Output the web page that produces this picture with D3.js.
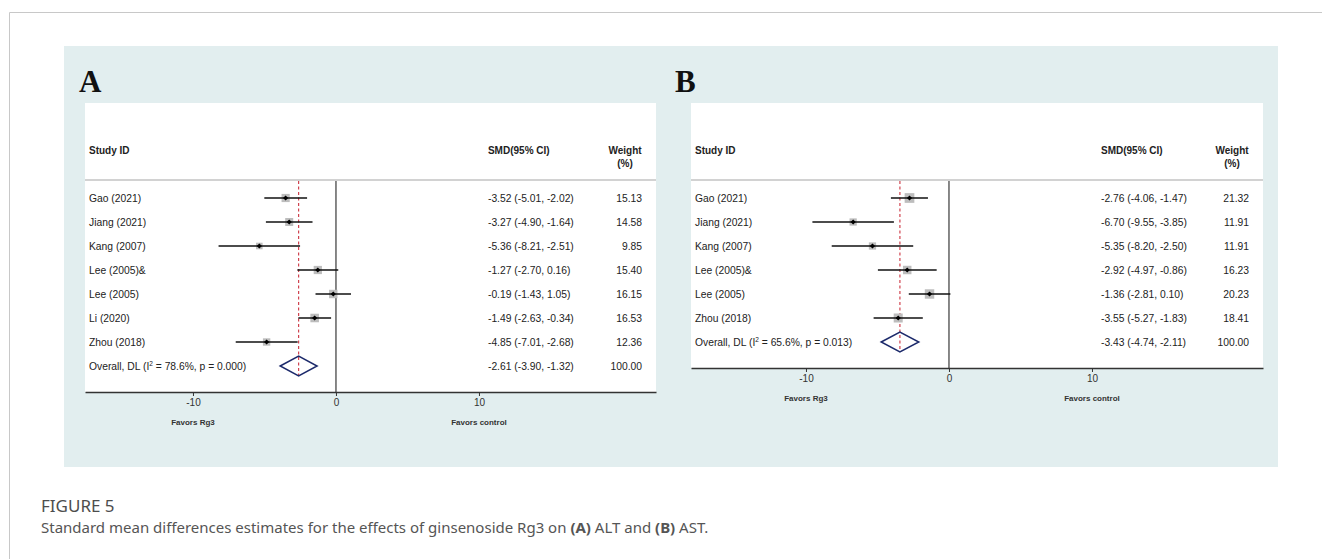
<!DOCTYPE html>
<html lang="en">
<head>
<meta charset="UTF-8">
<title>Figure 5 forest plots</title>
<script src="https://d3js.org/d3.v7.min.js"></script>
<style>
  body { margin: 0; background: #fff; }
  svg { display: block; }
  .lbl { font-family: "Liberation Sans", Arial, sans-serif; font-size: 10.3px; fill: #222; }
  .hdr { font-family: "Liberation Sans", Arial, sans-serif; font-size: 10px; font-weight: bold; fill: #222; }
  .fav { font-family: "Liberation Sans", Arial, sans-serif; font-size: 8px; font-weight: bold; fill: #333; }
  .tick text { font-family: "Liberation Sans", Arial, sans-serif; font-size: 10px; fill: #333; }
  .panel-letter { font-family: "Liberation Serif", "Times New Roman", serif; font-size: 31px; font-weight: bold; fill: #111; }
  .cap-title { font-family: "Noto Sans", sans-serif; font-size: 17px; fill: #4d4d4d; }
  .cap-text { font-family: "Noto Sans", sans-serif; font-size: 15px; fill: #555; }
</style>
</head>
<body>
<svg id="fig" width="1322" height="559"></svg>
<script>
// Panel A: ALT
const studiesA = ["Gao (2021)", "Jiang (2021)", "Kang (2007)", "Lee (2005)&", "Lee (2005)", "Li (2020)", "Zhou (2018)"];
const smdA = [-3.52, -3.27, -5.36, -1.27, -0.19, -1.49, -4.85];
const lowA = [-5.01, -4.90, -8.21, -2.70, -1.43, -2.63, -7.01];
const highA = [-2.02, -1.64, -2.51, 0.16, 1.05, -0.34, -2.68];
const weightA = [15.13, 14.58, 9.85, 15.40, 16.15, 16.53, 12.36];
const overallA = [-2.61, -3.90, -1.32];   // smd, low, high
const hetA = ["78.6", "0.000"];           // I², p

// Panel B: AST
const studiesB = ["Gao (2021)", "Jiang (2021)", "Kang (2007)", "Lee (2005)&", "Lee (2005)", "Zhou (2018)"];
const smdB = [-2.76, -6.70, -5.35, -2.92, -1.36, -3.55];
const lowB = [-4.06, -9.55, -8.20, -4.97, -2.81, -5.27];
const highB = [-1.47, -3.85, -2.50, -0.86, 0.10, -1.83];
const weightB = [21.32, 11.91, 11.91, 16.23, 20.23, 18.41];
const overallB = [-3.43, -4.74, -2.11];
const hetB = ["65.6", "0.013"];

const tickVals = [-10, 0, 10];
const favorLabels = ["Favors Rg3", "Favors control"];

const svg = d3.select("#fig");

// outer frame + tinted panel
svg.append("path").attr("d", "M9.5,559 V12.5 H1322").attr("fill", "none").attr("stroke", "#c8c8c8");
svg.append("rect").attr("x", 64).attr("y", 46).attr("width", 1214).attr("height", 421).attr("fill", "#e2eeef");

function forest(opt) {
  const g = svg.append("g");
  const n = opt.studies.length;
  const rowY = d3.scalePoint().domain(d3.range(n + 1)).range([198, 198 + 24 * n]);
  const axisY = rowY(n) + 26;
  const x = d3.scaleLinear().domain(opt.domain).range([opt.left, opt.right]);
  const hdrY = 180;
  const side = w => 2.1 * Math.sqrt(w);

  g.append("text").attr("class", "panel-letter").attr("x", opt.letterX).attr("y", 92).text(opt.letter);

  g.append("rect").attr("x", opt.left).attr("y", 103)
    .attr("width", opt.right - opt.left).attr("height", axisY - 103).attr("fill", "#fff");

  // header
  g.append("text").attr("class", "hdr").attr("x", opt.left + 4).attr("y", 154).text("Study ID");
  g.append("text").attr("class", "hdr").attr("x", x(0) + 152).attr("y", 154).text("SMD(95% CI)");
  g.append("text").attr("class", "hdr").attr("x", opt.right - 31).attr("y", 154).attr("text-anchor", "middle").text("Weight");
  g.append("text").attr("class", "hdr").attr("x", opt.right - 31).attr("y", 167).attr("text-anchor", "middle").text("(%)");
  g.append("line").attr("x1", opt.left).attr("x2", opt.right).attr("y1", hdrY).attr("y2", hdrY)
    .attr("stroke", "#d2d2d2").attr("stroke-width", 2);

  // null line
  g.append("line").attr("x1", x(0)).attr("x2", x(0)).attr("y1", hdrY + 1).attr("y2", axisY)
    .attr("stroke", "#555").attr("stroke-width", 1.4);

  // overall effect dashed line
  g.append("line").attr("x1", x(opt.overall[0])).attr("x2", x(opt.overall[0]))
    .attr("y1", hdrY + 1).attr("y2", rowY(n) + 10)
    .attr("stroke", "#cc3340").attr("stroke-width", 1.1).attr("stroke-dasharray", "3,2.5");

  const rows = opt.studies.map((s, i) => ({ s, est: opt.smd[i], lo: opt.low[i], hi: opt.high[i], w: opt.weight[i], i }));

  const row = g.selectAll(".row").data(rows).join("g").attr("class", "row");
  row.append("rect")
    .attr("x", d => x(d.est) - side(d.w) / 2)
    .attr("y", d => rowY(d.i) - side(d.w) / 2)
    .attr("width", d => side(d.w))
    .attr("height", d => side(d.w))
    .attr("fill", "#bdbdbd");
  row.append("line")
    .attr("x1", d => x(d.lo)).attr("x2", d => x(d.hi))
    .attr("y1", d => rowY(d.i)).attr("y2", d => rowY(d.i))
    .attr("stroke", "#111").attr("stroke-width", 1.5);
  row.append("path")
    .attr("d", d => `M${x(d.est)},${rowY(d.i) - 2.6}l2.6,2.6l-2.6,2.6l-2.6,-2.6z`)
    .attr("fill", "#000");
  row.append("text").attr("class", "lbl").attr("x", opt.left + 4).attr("y", d => rowY(d.i) + 3.6).text(d => d.s);
  row.append("text").attr("class", "lbl").attr("x", x(0) + 152).attr("y", d => rowY(d.i) + 3.6)
    .text(d => `${d.est.toFixed(2)} (${d.lo.toFixed(2)}, ${d.hi.toFixed(2)})`);
  row.append("text").attr("class", "lbl").attr("x", opt.right - 14).attr("y", d => rowY(d.i) + 3.6)
    .attr("text-anchor", "end").text(d => d.w.toFixed(2));

  // overall row
  const oy = rowY(n);
  const [oe, ol, oh] = opt.overall;
  g.append("path")
    .attr("d", `M${x(ol)},${oy}L${x(oe)},${oy - 10}L${x(oh)},${oy}L${x(oe)},${oy + 10}Z`)
    .attr("fill", "none").attr("stroke", "#1c2a6b").attr("stroke-width", 1.5);
  const ot = g.append("text").attr("class", "lbl").attr("x", opt.left + 4).attr("y", oy + 3.6);
  ot.append("tspan").text("Overall, DL (I");
  ot.append("tspan").attr("dy", -4).attr("font-size", "6.5px").text("2");
  ot.append("tspan").attr("dy", 4).text(` = ${opt.het[0]}%, p = ${opt.het[1]})`);
  g.append("text").attr("class", "lbl").attr("x", x(0) + 152).attr("y", oy + 3.6)
    .text(`${oe.toFixed(2)} (${ol.toFixed(2)}, ${oh.toFixed(2)})`);
  g.append("text").attr("class", "lbl").attr("x", opt.right - 14).attr("y", oy + 3.6)
    .attr("text-anchor", "end").text((100).toFixed(2));

  // axis
  const ax = g.append("g").attr("transform", `translate(0,${axisY})`)
    .call(d3.axisBottom(x).tickValues(tickVals).tickFormat(d => String(d))
      .tickSize(4).tickSizeOuter(0).tickPadding(3));
  ax.select(".domain").attr("stroke", "#333").attr("stroke-width", 1.3);
  ax.selectAll(".tick line").attr("stroke", "#333");

  g.append("text").attr("class", "fav").attr("x", x(-10)).attr("y", axisY + 33)
    .attr("text-anchor", "middle").text(favorLabels[0]);
  g.append("text").attr("class", "fav").attr("x", x(10)).attr("y", axisY + 33)
    .attr("text-anchor", "middle").text(favorLabels[1]);
}

forest({ letter: "A", letterX: 79, left: 85, right: 656, domain: [-17.55, 22.38],
  studies: studiesA, smd: smdA, low: lowA, high: highA, weight: weightA, overall: overallA, het: hetA });
forest({ letter: "B", letterX: 675, left: 691, right: 1263, domain: [-18.04, 21.96],
  studies: studiesB, smd: smdB, low: lowB, high: highB, weight: weightB, overall: overallB, het: hetB });

// caption
svg.append("text").attr("class", "cap-title").attr("x", 41).attr("y", 512).text("FIGURE 5");
const cap = svg.append("text").attr("class", "cap-text").attr("x", 41).attr("y", 533);
cap.append("tspan").text("Standard mean differences estimates for the effects of ginsenoside Rg3 on ");
cap.append("tspan").attr("font-weight", "bold").text("(A)");
cap.append("tspan").text(" ALT and ");
cap.append("tspan").attr("font-weight", "bold").text("(B)");
cap.append("tspan").text(" AST.");
</script>
</body>
</html>
